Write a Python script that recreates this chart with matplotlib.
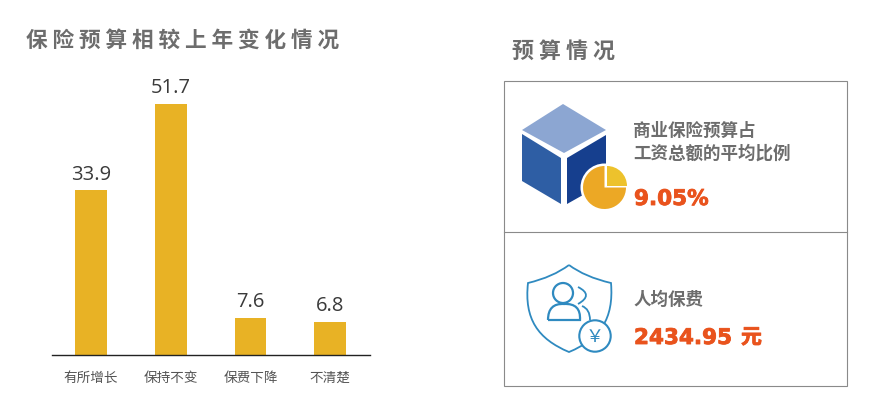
import matplotlib
matplotlib.use('Agg')
import matplotlib.pyplot as plt
import matplotlib.patheffects as pe
from matplotlib.patches import Polygon, Rectangle, Circle, Wedge, PathPatch
from matplotlib.path import Path

plt.rcParams['font.family'] = ['Noto Sans CJK SC', 'DejaVu Sans']

categories = ['有所增长', '保持不变', '保费下降', '不清楚']
values = [33.9, 51.7, 7.6, 6.8]
value_labels = ['33.9', '51.7', '7.6', '6.8']
left_title = '保 险 预 算 相 较 上 年 变 化 情 况'
right_title = '预 算 情 况'
ratio_label = '商业保险预算占\n工资总额的平均比例'
ratio_value = '9.05%'
fee_label = '人均保费'
fee_value = '2434.95'
fee_unit = '元'

W, H = 882, 410
GRAY = '#6d6d6d'
ORANGE = '#e9531d'
BLUE = '#2f8ac0'
HEAVY = [pe.withStroke(linewidth=0.6, foreground=ORANGE)]

fig = plt.figure(figsize=(W / 100, H / 100), dpi=100)

# bar chart
ax = fig.add_axes([52 / W, 1 - 356 / H, 318 / W, 291 / H])
ax.bar(range(len(values)), values, width=0.4, color='#e8b225', zorder=2)
ax.set_xlim(-0.49, 3.5)
ax.set_ylim(0, 291 / 4.855)
for i, v in enumerate(values):
    ax.text(i, v + 2.4, value_labels[i], ha='center', va='baseline', fontsize=14.5,
            color='#3a3a3a', family='Open Sans')
ax.set_xticks(range(len(categories)), categories, fontsize=9.8, color='#555555')
ax.tick_params(axis='x', length=0, pad=11)
ax.set_yticks([])
for s in ['top', 'left', 'right']:
    ax.spines[s].set_visible(False)
ax.spines['bottom'].set_color('#222222')
ax.spines['bottom'].set_linewidth(1.0)

# overlay in pixel coordinates for titles, panels and icons
ov = fig.add_axes([0, 0, 1, 1], zorder=5)
ov.set_xlim(0, W)
ov.set_ylim(H, 0)
ov.axis('off')

ov.text(26, 40, left_title, fontsize=15.6, fontweight='bold', color=GRAY, va='center')
ov.text(512, 51, right_title, fontsize=15.8, fontweight='bold', color=GRAY, va='center')

# panels
ov.add_patch(Rectangle((503.5, 81.5), 343, 305, fc='none', ec='#8a8a8a', lw=0.8))
ov.plot([503.5, 846.5], [232.5, 232.5], color='#8a8a8a', lw=0.8)

# cube icon
ov.add_patch(Polygon([(563, 105), (606, 131), (564, 154), (522, 131)], fc='#8ca6d2', ec='none'))
ov.add_patch(Polygon([(522, 135), (561, 159), (561, 205), (522, 182)], fc='#2e5ea4', ec='none'))
ov.add_patch(Polygon([(567, 159), (606, 136), (606, 183), (567, 205)], fc='#163f8e', ec='none'))
ov.add_patch(Circle((604.5, 188.5), 24, fc='white', ec='none'))
ov.add_patch(Wedge((604.5, 188.5), 21.5, 0, 270, fc='#eca825', ec='none'))
ov.add_patch(Wedge((607, 187), 20, 270, 360, fc='#edc22c', ec='none'))

ov.text(633, 142, ratio_label, fontsize=12.6, fontweight='bold', color=GRAY, va='center', linespacing=1.3)
ov.text(634, 200, ratio_value, fontsize=15.5, fontweight='bold', color=ORANGE, va='center',
        family='DejaVu Sans', path_effects=HEAVY)

# shield icon
shield = Path(
    [(569, 266), (585, 278), (611, 284), (614, 320), (600, 340), (569, 353),
     (538, 340), (524, 320), (528, 284), (553, 278), (569, 266)],
    [Path.MOVETO, Path.CURVE3, Path.CURVE3, Path.CURVE4, Path.CURVE4, Path.CURVE4,
     Path.CURVE4, Path.CURVE4, Path.CURVE4, Path.CURVE3, Path.CURVE3])
ov.add_patch(PathPatch(shield, fc='none', ec=BLUE, lw=1.3))
ov.add_patch(Circle((563, 294), 10, fc='none', ec=BLUE, lw=1.6))
body = Path([(548, 321), (548, 304), (564, 305), (581, 304), (580, 321), (548, 321)],
            [Path.MOVETO, Path.CURVE3, Path.CURVE3, Path.CURVE3, Path.CURVE3, Path.LINETO])
ov.add_patch(PathPatch(body, fc='none', ec=BLUE, lw=1.6))
back = Path([(578, 288), (594, 296), (578, 305), (582, 307), (590, 310), (590, 321)],
            [Path.MOVETO, Path.CURVE3, Path.CURVE3, Path.MOVETO, Path.CURVE3, Path.CURVE3])
ov.add_patch(PathPatch(back, fc='none', ec=BLUE, lw=1.3))
ov.add_patch(Circle((595, 337), 15.7, fc='white', ec=BLUE, lw=1.5, zorder=3))
ov.text(595, 337, '￥', fontsize=13, color=BLUE, ha='center', va='center', zorder=4)

ov.text(633, 300, fee_label, fontsize=12.6, fontweight='bold', color=GRAY, va='center')
ov.text(634, 339, fee_value, fontsize=15.5, fontweight='bold', color=ORANGE, va='center',
        family='DejaVu Sans', path_effects=HEAVY)
ov.text(741, 338, fee_unit, fontsize=15, fontweight='bold', color=ORANGE, va='center', path_effects=HEAVY)

fig.savefig('out.png', dpi=100)
